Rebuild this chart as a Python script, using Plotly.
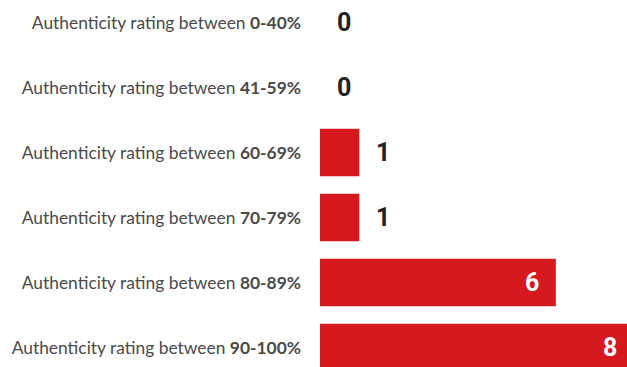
import plotly.graph_objects as go

ranges = ["0-40%", "41-59%", "60-69%", "70-79%", "80-89%", "90-100%"]
counts = [0, 0, 1, 1, 6, 8]
labels = [f"Authenticity rating between <b>{r}</b>" for r in ranges]

XMAX = 7.81

fig = go.Figure(go.Bar(
    x=counts, y=labels, orientation="h",
    marker=dict(color="#d6181f", line=dict(width=0)),
    hoverinfo="skip",
))

annotations = []
for lab, v in zip(labels, counts):
    inside = v >= 3
    annotations.append(dict(
        x=v / XMAX, y=lab, xref="paper", yref="y",
        text=f"<b>{v}</b>", showarrow=False,
        xanchor="right" if inside else "left",
        xshift=-15 if inside else 15,
        font=dict(family="Roboto, sans-serif",
                  size=25, color="white" if inside else "#222222"),
    ))

fig.update_layout(
    width=627, height=367,
    margin=dict(l=320, r=0, t=0, b=0),
    paper_bgcolor="white", plot_bgcolor="white",
    bargap=0.27,
    showlegend=False,
    annotations=annotations,
    xaxis=dict(range=[0, XMAX], visible=False, fixedrange=True),
    yaxis=dict(
        categoryorder="array", categoryarray=labels,
        range=[5.3, -0.345],
        showgrid=False, zeroline=False, showline=False, ticks="",
        ticklabelstandoff=18,
        tickfont=dict(family="Lato, sans-serif", size=17.4, color="#4a4a4a"),
    ),
)

fig.write_html("out.html")
